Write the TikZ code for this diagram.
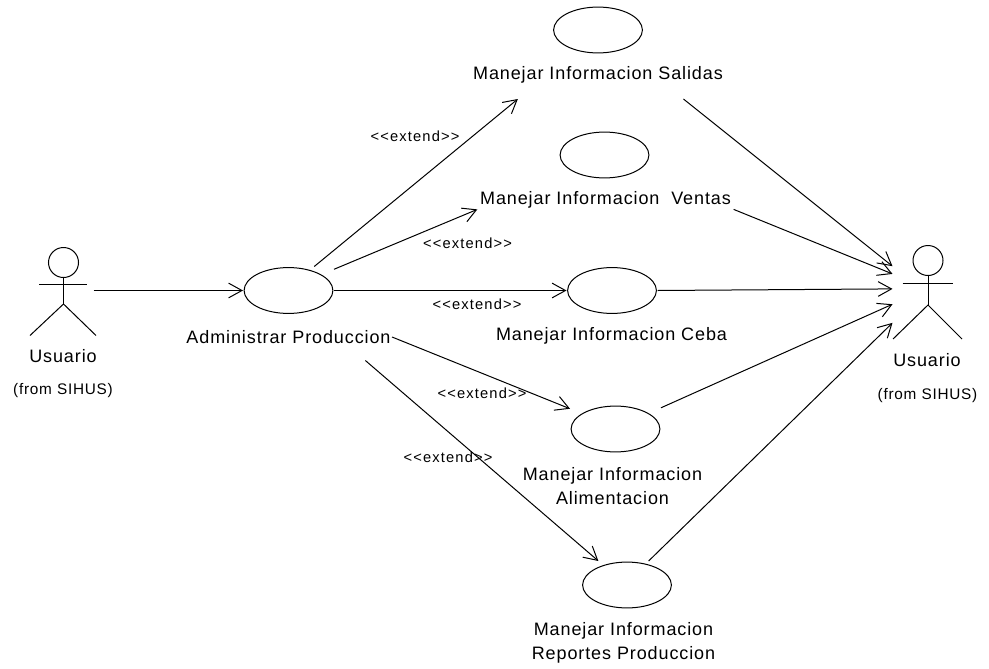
\documentclass[tikz,border=0pt]{standalone}
\usepackage{fontspec}
\setmainfont{Liberation Sans}
\newfontfamily\ucfont[LetterSpace=5]{Liberation Sans}
\newfontfamily\stereofont[LetterSpace=8]{Liberation Sans}
\usetikzlibrary{arrows.meta}

\tikzset{every picture/.style={line width=0.75pt}}
\tikzset{
	usecase/.style={minimum width=67.5pt, minimum height=35.25pt, inner sep=0pt,
		path picture={\draw (path picture bounding box.center) ellipse (33.3pt and 17.2pt);}},
	actorbox/.style={minimum height=70.5pt, inner sep=0pt},
	uclabel/.style={inner sep=0.75pt, align=center, font=\ucfont\fontsize{13.5}{18}\selectfont},
	fromlabel/.style={inner sep=0.75pt, font=\ucfont\fontsize{11.5}{13}\selectfont},
	stereo/.style={inner sep=0.75pt, font=\stereofont\fontsize{11}{12}\selectfont},
	assoc/.style={-{Straight Barb[length=10pt,width=11pt]}}}

\begin{document}
\begin{tikzpicture}[x=0.75pt,y=0.75pt,yscale=-1,xscale=1]
\useasboundingbox (0,0) rectangle (989,668);

%Use cases
\node [usecase] (admin) at (288.5,290.5) {};
\node [usecase] (salidas) at (598,30) {};
\node [usecase] (ventas) at (604.5,155) {};
\node [usecase] (ceba) at (612,290.5) {};
\node [usecase] (alimentacion) at (615.5,429) {};
\node [usecase] (reportes) at (627,585) {};

%Actor left
\node [actorbox, minimum width=44.25pt] (usuarioL) at (63.5,290.5) {};
\draw (63.5,262.5) circle (11.25pt);
\draw (63.5,277.5) -- (63.5,304);
\draw (39,284) -- (87,284);
\draw (30,335.5) -- (63.5,304) -- (96,335.5);
%Actor right
\node [actorbox, minimum width=52.5pt] (usuarioR) at (928,292) {};
\draw (928,260.5) circle (11.25pt);
\draw (928,276) -- (928,305);
\draw (902.5,283.5) -- (953,283.5);
\draw (893,339) -- (928,305) -- (962,339);

% Text Node
\node [uclabel] (usuarioLtxt) at (63,356) {Usuario};
\node [fromlabel] (fromL) at (63,391) {(from SIHUS)};
\node [uclabel] (usuarioRtxt) at (927,360) {Usuario};
\node [fromlabel] (fromR) at (927.5,396) {(from SIHUS)};
\node [uclabel, minimum height=34.5pt] (adminL) at (288.5,337) {Administrar Produccion};
\node [uclabel, minimum height=36pt] (salidasL) at (598,74.5) {Manejar Informacion Salidas};
\node [uclabel, minimum width=191.5pt] (ventasL) at (605.5,199.5) {Manejar Informacion\ \ Ventas};
\node [uclabel] (cebaL) at (611.5,335.5) {Manejar Informacion Ceba};
\node [uclabel] (alimentacionL) at (612.5,486.5) {Manejar Informacion\\Alimentacion};
\node [uclabel] (reportesL) at (623.5,642.5) {Manejar Informacion\\Reportes Produccion};
\node [stereo] (ext1) at (415,136) {{<}{<}extend{>}{>}};
\node [stereo] (ext2) at (467.5,243) {{<}{<}extend{>}{>}};
\node [stereo] (ext3) at (477,304) {{<}{<}extend{>}{>}};
\node [stereo] (ext4) at (482,393) {{<}{<}extend{>}{>}};
\node [stereo] (ext5) at (448,457) {{<}{<}extend{>}{>}};

%Straight Lines
\draw [assoc] (usuarioL.east) -- (admin.west);
\draw [assoc] (admin.43) -- (salidasL.197.4);
\draw [assoc] (admin.25) -- (ventasL.south west);
\draw [assoc] (admin.east) -- (ceba.west);
\draw [assoc] (adminL.east) -- (alimentacion.156);
\draw [assoc] (adminL.-17) -- (reportes.140);
\draw [assoc] (salidasL.-16.2) -- (usuarioR.144.5);
\draw [assoc] (ventasL.south east) -- (usuarioR.153);
\draw [assoc] (ceba.east) -- (usuarioR.175);
\draw [assoc] (alimentacion.25) -- (usuarioR.199);
\draw [assoc] (reportes.48) -- (usuarioR.221.5);

\end{tikzpicture}
\end{document}
